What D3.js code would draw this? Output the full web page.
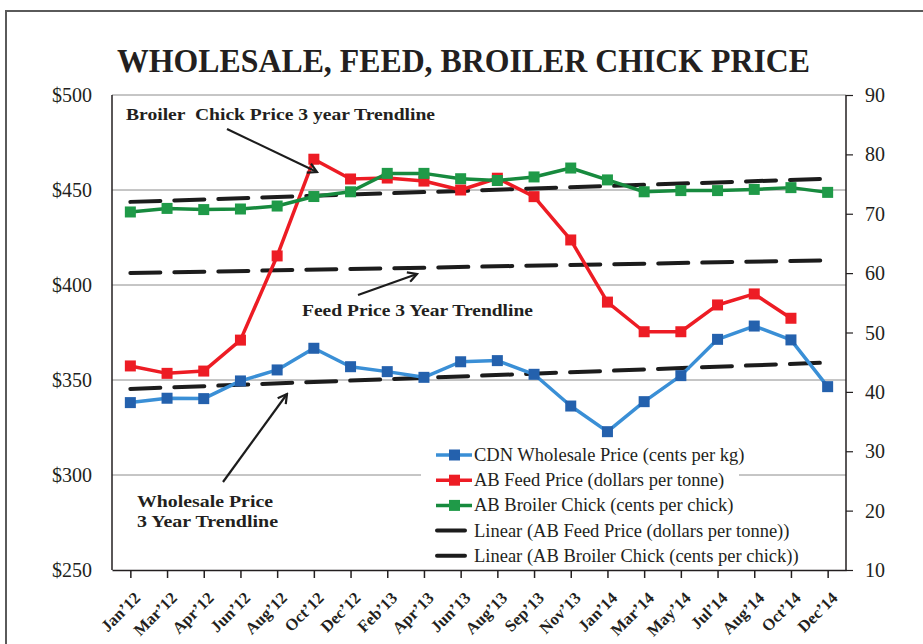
<!DOCTYPE html>
<html>
<head>
<meta charset="utf-8">
<script src="https://cdn.jsdelivr.net/npm/d3@7"></script>
<style>
  body { margin: 0; background: #fff; }
  svg text { font-family: "Liberation Serif", "Times New Roman", serif; fill: #231f20; }
</style>
</head>
<body>
<svg id="chart" width="923" height="644"></svg>
<script>
// month labels on the x axis
const categories = ["Jan’12", "Mar’12", "Apr’12", "Jun’12", "Aug’12", "Oct’12", "Dec’12", "Feb’13", "Apr’13", "Jun’13",
  "Aug’13", "Sep’13", "Nov’13", "Jan’14", "Mar’14", "May’14", "Jul’14", "Aug’14", "Oct’14", "Dec’14"];

// left axis series
const wholesale = [338.1, 340.4, 340.2, 349.5, 355.3, 366.7, 357.0, 354.4, 351.4, 359.6,
  360.2, 353.0, 336.3, 322.8, 338.6, 352.3, 371.4, 378.4, 371.1, 346.5];
const feed = [357.4, 353.5, 354.7, 371.0, 415.3, 466.2, 455.8, 456.3, 454.7, 450.0,
  456.2, 446.5, 423.7, 391.0, 375.4, 375.4, 389.5, 395.3, 382.5, null];
// right axis series
const chick = [70.3, 70.9, 70.7, 70.8, 71.3, 72.9, 73.7, 76.8, 76.8, 75.9,
  75.6, 76.2, 77.7, 75.7, 73.7, 73.9, 73.9, 74.1, 74.4, 73.6];

// trendline values at first and last month
const trendWholesale = [345.3, 359.2];
const trendFeed = [406.3, 413.0];
const trendChick = [72.0, 75.9];

const leftTicks = [250, 300, 350, 400, 450, 500];
const rightTicks = [10, 20, 30, 40, 50, 60, 70, 80, 90];

const legendLabels = [
  "CDN Wholesale Price (cents per kg)",
  "AB Feed Price (dollars per tonne)",
  "AB Broiler Chick (cents per chick)",
  "Linear (AB Feed Price (dollars per tonne))",
  "Linear (AB Broiler Chick (cents per chick))"
];

const svg = d3.select("#chart");
const plotLeft = 112, plotRight = 846, plotTop = 95, plotBottom = 570;

const x = d3.scalePoint().domain(categories).range([plotLeft, plotRight]).padding(0.5);
const yL = d3.scaleLinear().domain([250, 500]).range([plotBottom, plotTop]);
const yR = d3.scaleLinear().domain([10, 90]).range([plotBottom, plotTop]);

// outer frame
svg.append("path")
  .attr("d", "M6,644 L6,11 L923,11")
  .attr("fill", "none").attr("stroke", "#5a5a5a").attr("stroke-width", 2);

// title
svg.append("text")
  .attr("x", 117).attr("y", 72)
  .attr("textLength", 693).attr("lengthAdjust", "spacingAndGlyphs")
  .style("font-size", "34px").style("font-weight", "bold")
  .text("WHOLESALE, FEED, BROILER CHICK PRICE");

// gridlines
svg.append("g").selectAll("line")
  .data(leftTicks.slice(1))
  .join("line")
  .attr("x1", plotLeft).attr("x2", plotRight)
  .attr("y1", d => yL(d)).attr("y2", d => yL(d))
  .attr("stroke", "#8c8c8c").attr("stroke-width", 1);

// legend background hides the gridline behind it
svg.append("rect")
  .attr("x", 421).attr("y", 440).attr("width", 318).attr("height", 128)
  .attr("fill", "#fff");

// axes lines
const axisColor = "#231f20";
svg.append("line").attr("x1", plotLeft).attr("x2", plotLeft).attr("y1", plotTop).attr("y2", plotBottom)
  .attr("stroke", axisColor).attr("stroke-width", 1.5);
svg.append("line").attr("x1", plotRight).attr("x2", plotRight).attr("y1", plotTop).attr("y2", plotBottom)
  .attr("stroke", axisColor).attr("stroke-width", 1.5);

// bottom axis
const xAxis = svg.append("g")
  .attr("transform", `translate(0,${plotBottom})`)
  .call(d3.axisBottom(x).tickSize(8).tickSizeOuter(0).tickFormat(""));
xAxis.select(".domain").attr("stroke", axisColor).attr("stroke-width", 1.5);
xAxis.selectAll(".tick line").attr("stroke", axisColor).attr("stroke-width", 1.5);

svg.append("g").selectAll("text")
  .data(categories)
  .join("text")
  .attr("text-anchor", "end")
  .attr("transform", d => `translate(${x(d) + 11},${plotBottom + 29}) rotate(-45)`)
  .style("font-size", "16.5px").style("font-weight", "bold")
  .text(d => d);

// left labels
svg.append("g").selectAll("text")
  .data(leftTicks)
  .join("text")
  .attr("x", 92).attr("y", d => yL(d))
  .attr("dy", "0.35em").attr("text-anchor", "end")
  .style("font-size", "20px")
  .text(d => "$" + d);

// right axis ticks and labels
const rAxis = svg.append("g")
  .attr("transform", `translate(${plotRight},0)`)
  .call(d3.axisRight(yR).tickValues(rightTicks).tickSize(7).tickFormat(""));
rAxis.select(".domain").remove();
rAxis.selectAll(".tick line").attr("stroke", axisColor).attr("stroke-width", 1.2);

svg.append("g").selectAll("text")
  .data(rightTicks)
  .join("text")
  .attr("x", 865).attr("y", d => yR(d))
  .attr("dy", "0.35em")
  .style("font-size", "20px")
  .text(d => d);

// trendlines
const first = categories[0], last = categories[categories.length - 1];
const trends = [
  { v: trendWholesale, y: yL },
  { v: trendFeed, y: yL },
  { v: trendChick, y: yR }
];
svg.append("g").selectAll("line")
  .data(trends)
  .join("line")
  .attr("x1", x(first)).attr("x2", x(last))
  .attr("y1", d => d.y(d.v[0])).attr("y2", d => d.y(d.v[1]))
  .attr("stroke", "#1c1c1c").attr("stroke-width", 4)
  .attr("stroke-dasharray", "30 14").attr("stroke-linecap", "round");

// series
const series = [
  { values: wholesale, y: yL, line: "#3a8fd6", marker: "#2461ad" },
  { values: feed, y: yL, line: "#ed1c24", marker: "#ed1c24" },
  { values: chick, y: yR, line: "#178a3e", marker: "#1f9a48" }
];

series.forEach(s => {
  const pts = categories.map((c, i) => ({ c, v: s.values[i] })).filter(p => p.v != null);
  const line = d3.line().x(p => x(p.c)).y(p => s.y(p.v));
  svg.append("path")
    .datum(pts)
    .attr("d", line)
    .attr("fill", "none").attr("stroke", s.line).attr("stroke-width", 3.5)
    .attr("stroke-linejoin", "round");
  svg.append("g").selectAll("rect")
    .data(pts)
    .join("rect")
    .attr("x", p => x(p.c) - 5.5).attr("y", p => s.y(p.v) - 5.5)
    .attr("width", 11).attr("height", 11)
    .attr("fill", s.marker);
});

// legend
const legend = svg.append("g");
legendLabels.forEach((label, i) => {
  const ly = 455 + i * 25.2;
  const g = legend.append("g").attr("transform", `translate(0,${ly})`);
  if (i < 3) {
    g.append("line").attr("x1", 436).attr("x2", 472).attr("y1", 0).attr("y2", 0)
      .attr("stroke", series[i].line).attr("stroke-width", 3.5);
    g.append("rect").attr("x", 449).attr("y", -5.5).attr("width", 11).attr("height", 11)
      .attr("fill", series[i].marker);
  } else {
    g.append("line").attr("x1", 437).attr("x2", 465).attr("y1", 0).attr("y2", 0)
      .attr("stroke", "#1c1c1c").attr("stroke-width", 4).attr("stroke-linecap", "round");
  }
  g.append("text").attr("x", 474).attr("y", 0).attr("dy", "0.32em")
    .style("font-size", "18.5px")
    .text(label);
});

// annotations
svg.append("defs").append("marker")
  .attr("id", "arrow")
  .attr("viewBox", "0 0 12 12").attr("refX", 10).attr("refY", 6)
  .attr("markerWidth", 12).attr("markerHeight", 12)
  .attr("markerUnits", "userSpaceOnUse")
  .attr("orient", "auto")
  .append("path")
  .attr("d", "M1,1 L10,6 L1,11")
  .attr("fill", "none").attr("stroke", "#1c1c1c").attr("stroke-width", 2.2);

const notes = [
  { lines: ["Broiler  Chick Price 3 year Trendline"], x: 126, y: 120, w: [309] },
  { lines: ["Feed Price 3 Year Trendline"], x: 302, y: 316, w: [231] },
  { lines: ["Wholesale Price", "3 Year Trendline"], x: 137, y: 507, w: [136, 141] }
];
notes.forEach(n => {
  n.lines.forEach((t, i) => {
    svg.append("text")
      .attr("x", n.x).attr("y", n.y + i * 20)
      .attr("textLength", n.w[i]).attr("lengthAdjust", "spacingAndGlyphs")
      .style("font-size", "17.5px").style("font-weight", "bold")
      .style("white-space", "pre")
      .text(t);
  });
});

const arrows = [
  [227, 129, 317, 172],
  [358, 295, 417, 274],
  [223, 482, 287, 394]
];
svg.append("g").selectAll("line")
  .data(arrows)
  .join("line")
  .attr("x1", d => d[0]).attr("y1", d => d[1])
  .attr("x2", d => d[2]).attr("y2", d => d[3])
  .attr("stroke", "#1c1c1c").attr("stroke-width", 2.2)
  .attr("marker-end", "url(#arrow)");
</script>
</body>
</html>
